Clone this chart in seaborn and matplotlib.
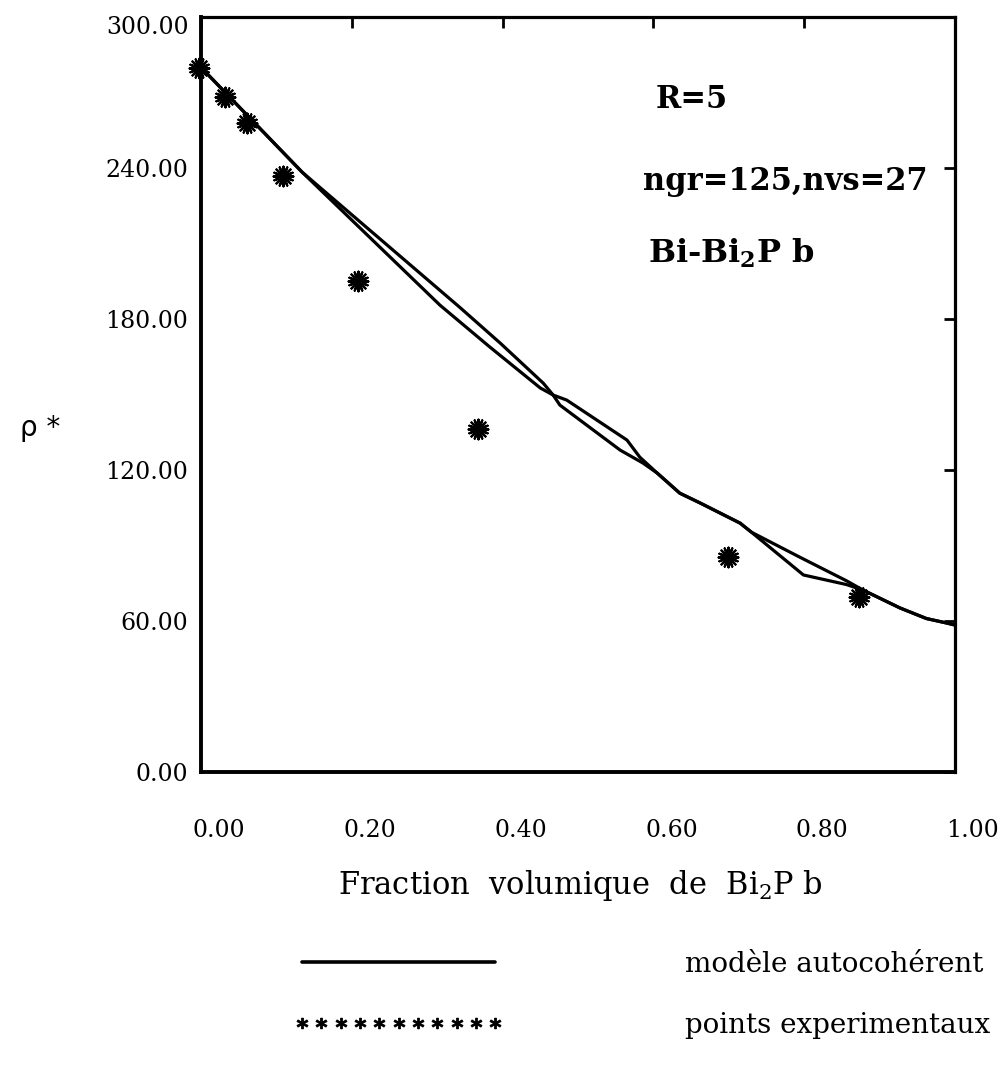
import matplotlib
matplotlib.use("Agg")
import matplotlib.pyplot as plt
import matplotlib.transforms as mtransforms
from matplotlib.lines import Line2D
import pandas as pd
import seaborn as sns

# modele autocoherent : deux courbes presque confondues
x_modele_1 = [0.0, 0.134, 0.343, 0.397, 0.454, 0.467, 0.485, 0.565, 0.582, 0.605,
              0.635, 0.662, 0.715, 0.730, 0.794, 0.856, 0.878, 0.927, 0.962, 0.989, 1.0]
rho_modele_1 = [280.0, 238.4, 184.7, 170.4, 154.5, 149.8, 147.8, 131.9, 125.1, 118.8,
                110.8, 106.9, 98.9, 95.3, 85.4, 76.0, 72.3, 65.2, 61.0, 59.2, 58.4]
x_modele_2 = [0.0, 0.134, 0.317, 0.383, 0.450, 0.467, 0.476, 0.556, 0.586, 0.605,
              0.635, 0.662, 0.715, 0.730, 0.799, 0.856, 0.878, 0.927, 0.962, 0.989, 1.0]
rho_modele_2 = [280.0, 238.4, 185.5, 168.9, 152.6, 149.8, 145.8, 127.9, 122.8, 118.8,
                110.8, 106.9, 98.9, 95.3, 78.3, 74.5, 72.3, 65.2, 61.0, 59.2, 58.4]

# points experimentaux
x_exp = [-0.003, 0.032, 0.061, 0.109, 0.208, 0.367, 0.699, 0.873]
rho_exp = [279.7, 268.2, 257.8, 237.0, 195.3, 136.3, 85.5, 69.6]

x_ticks = [0.0, 0.2, 0.4, 0.6, 0.8, 1.0]
y_ticks = [0, 60, 120, 180, 240, 300]

sns.set_style("white")
plt.rcParams["font.family"] = ["DejaVu Serif"]
plt.rcParams["mathtext.fontset"] = "dejavuserif"
plt.rcParams["text.color"] = "black"
plt.rcParams["axes.labelcolor"] = "black"

fig = plt.figure(figsize=(10.06, 10.79), dpi=100)
ax = fig.add_axes([0.1998, 0.2845, 0.7495, 0.6997])

modele = pd.DataFrame({
    "x": x_modele_1 + x_modele_2,
    "rho": rho_modele_1 + rho_modele_2,
    "courbe": ["a"] * len(x_modele_1) + ["b"] * len(x_modele_2),
})
sns.lineplot(data=modele, x="x", y="rho", units="courbe", estimator=None,
             color="black", linewidth=2.3, ax=ax, legend=False)

sns.scatterplot(x=x_exp, y=rho_exp, marker=(16, 2, 0), s=200, color="black",
                linewidth=1.6, clip_on=False, zorder=5, ax=ax, legend=False)

ax.set_xlim(0, 1)
ax.set_ylim(0, 300)
ax.set_xticks(x_ticks)
ax.set_yticks(y_ticks)
ax.set_xticklabels([f"{v:.2f}" for v in x_ticks])
ax.set_yticklabels([f"{v:.2f}" for v in y_ticks])
ax.tick_params(direction="in", length=8, width=2, top=True, right=True,
               labelsize=17, colors="black")
ax.tick_params(axis="x", pad=34)
ax.tick_params(axis="y", pad=9)
# les etiquettes de l'axe x sont decalees vers la droite
shift = mtransforms.ScaledTranslation(0.18, 0, fig.dpi_scale_trans)
for lab in ax.get_xticklabels():
    lab.set_transform(lab.get_transform() + shift)
top_lab = ax.get_yticklabels()[-1]
top_lab.set_transform(top_lab.get_transform()
                      + mtransforms.ScaledTranslation(0, -0.08, fig.dpi_scale_trans))

for side, sp in ax.spines.items():
    sp.set_color("black")
    sp.set_linewidth(2.8 if side in ("left", "bottom") else 2.3)

ax.set_xlabel("Fraction  volumique  de  Bi$_2$P b", fontsize=22)
ax.xaxis.set_label_coords(0.503, -0.150)
ax.xaxis.label.set_va("center")
ax.set_ylabel("ρ *", rotation=0, fontsize=20, family="DejaVu Sans")
ax.yaxis.set_label_coords(-0.2135, 0.4556)
ax.yaxis.label.set_va("center")

ax.text(0.603, 0.879, "R=5", transform=ax.transAxes, fontsize=22,
        fontweight="bold", va="baseline")
ax.text(0.586, 0.771, "ngr=125,nvs=27", transform=ax.transAxes, fontsize=22,
        fontweight="bold", va="baseline")
ax.text(0.593, 0.674, r"Bi-Bi$_\mathbf{2}$P b", transform=ax.transAxes, fontsize=23,
        fontweight="bold", va="baseline")

handles = [
    Line2D([], [], color="black", linewidth=2.6),
    Line2D([], [], color="black", linestyle="none", marker="$*$", markersize=7.5),
]
fig.legend(handles, ["modèle autocohérent", "points experimentaux"],
           loc="center left", bbox_to_anchor=(0.292, 0.0780), frameon=False,
           fontsize=20, handlelength=7.55, handletextpad=6.55, numpoints=11,
           labelspacing=1.2, borderpad=0, borderaxespad=0)

fig.savefig("out.png", dpi=100)
